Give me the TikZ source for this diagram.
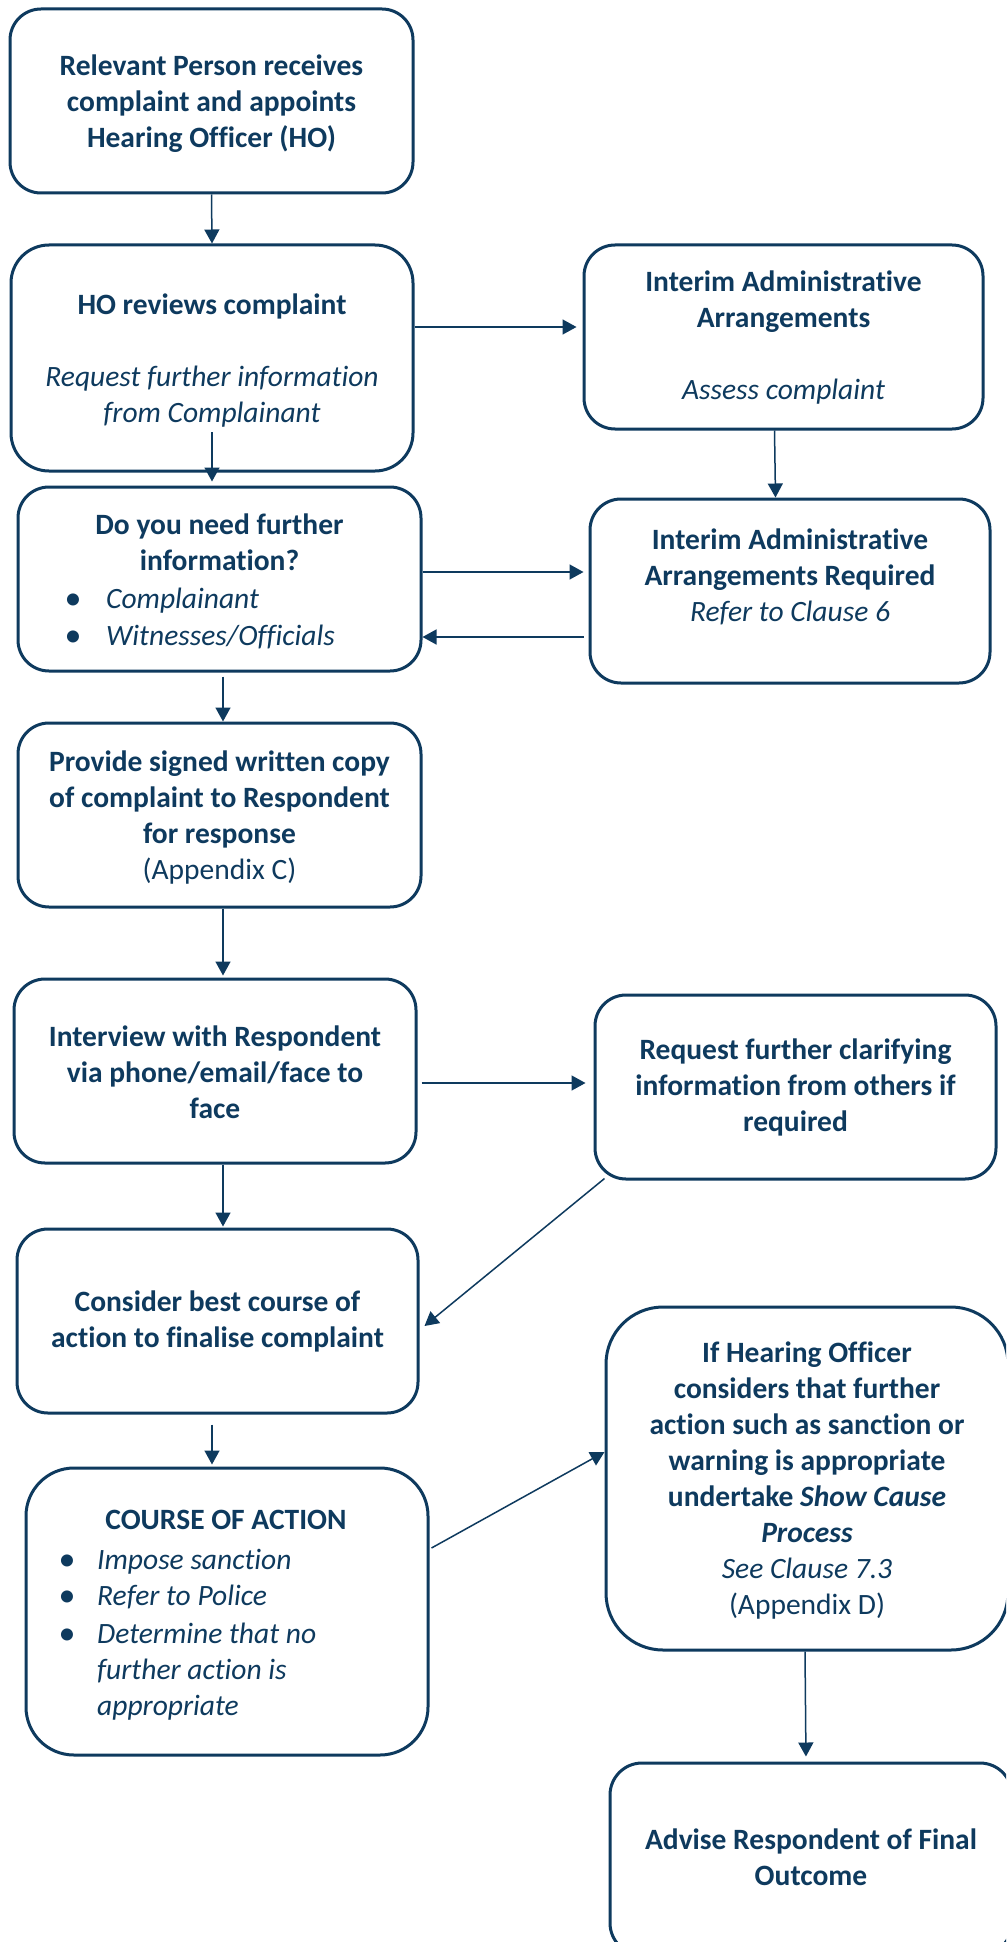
\documentclass[tikz,border=0pt]{standalone}
\usepackage{fontspec}
\setmainfont{Carlito}[Ligatures=NoCommon]
\usetikzlibrary{arrows.meta}
\definecolor{navy}{RGB}{14,58,94}
\begin{document}
\begin{tikzpicture}[x=1pt,y=-1pt,
  box/.style={draw=navy,line width=3pt,fill=white,inner sep=0pt},
  txt/.style={text=navy,align=center,inner sep=0pt,font=\fontsize{29.5}{36}\selectfont\bfseries},
  btxt/.style={text=navy,inner sep=0pt,anchor=base west,font=\fontsize{29.5}{36}\selectfont\itshape},
  bul/.style={text=navy,inner sep=0pt,anchor=base,font=\fontsize{34}{36}\selectfont},
  arr/.style={draw=navy,line width=1.5pt,-{Triangle[length=14pt,width=15pt]}}]
\fill[white] (0,0) rectangle (1006,1942);
\useasboundingbox (0,0) rectangle (1006,1942);
\clip (0,0) rectangle (1006,1942);
% boxes
\node[box,minimum width=403pt,minimum height=184pt,rounded corners=31pt] (b1) at (211.5,101) {};
\node[box,minimum width=402pt,minimum height=226pt,rounded corners=38pt] (b2) at (212,358) {};
\node[box,minimum width=399pt,minimum height=184pt,rounded corners=31pt] (b3) at (783.5,337) {};
\node[box,minimum width=403pt,minimum height=184pt,rounded corners=31pt] (b4) at (219.5,579) {};
\node[box,minimum width=400pt,minimum height=184pt,rounded corners=31pt] (b5) at (790,591) {};
\node[box,minimum width=403pt,minimum height=184pt,rounded corners=31pt] (b6) at (219.5,815) {};
\node[box,minimum width=402pt,minimum height=184pt,rounded corners=31pt] (b7) at (215,1071) {};
\node[box,minimum width=401pt,minimum height=184pt,rounded corners=31pt] (b8) at (795.5,1087) {};
\node[box,minimum width=401pt,minimum height=184pt,rounded corners=31pt] (b9) at (217.5,1321) {};
\node[box,minimum width=402pt,minimum height=287pt,rounded corners=48pt] (b10) at (227,1611.5) {};
\node[box,minimum width=402pt,minimum height=343pt,rounded corners=57pt] (b11) at (807,1478.5) {};
\node[box,minimum width=402pt,minimum height=192pt,rounded corners=32pt] (b12) at (811,1859) {};
% texts
\node[txt,yshift=-2.5pt] (t1) at (b1.center) {Relevant Person receives\\complaint and appoints\\Hearing Officer (HO)};
\node[txt,yshift=-3pt] (t2) at (b2.center) {HO reviews complaint\\[36pt]{\mdseries\itshape Request further information}\\{\mdseries\itshape from Complainant}};
\node[txt,yshift=-1pt] (t3) at (b3.center) {Interim Administrative\\Arrangements\\[36pt]{\mdseries\itshape Assess complaint}};
\node[txt] (t4) at (219.5,542.5) {Do you need further\\information?};
\node[bul] (t4a) at (73,609) {\textbullet};
\node[btxt] (t4b) at (106,608) {Complainant};
\node[bul] (t4c) at (73,646) {\textbullet};
\node[btxt] (t4d) at (106,645) {Witnesses/Officials};
\node[txt,yshift=14pt] (t5) at (b5.center) {Interim Administrative\\Arrangements Required\\{\mdseries\itshape Refer to Clause 6}};
\node[txt,yshift=-3pt] (t6) at (b6.center) {Provide signed written copy\\of complaint to Respondent\\for response\\{\mdseries (Appendix C)}};
\node[txt,yshift=-1pt] (t7) at (b7.center) {Interview with Respondent\\via phone/email/face to\\face};
\node[txt] (t8) at (b8.center) {Request further clarifying\\information from others if\\required};
\node[txt] (t9) at (b9.center) {Consider best course of\\action to finalise complaint};
\node[txt] (t10) at (226,1520) {COURSE OF ACTION};
\node[bul] (t10a) at (67,1570) {\textbullet};
\node[btxt] (t10b) at (97,1569) {Impose sanction};
\node[bul] (t10c) at (67,1606) {\textbullet};
\node[btxt] (t10d) at (97,1605) {Refer to Police};
\node[bul] (t10e) at (67,1644) {\textbullet};
\node[btxt] (t10f) at (97,1643) {Determine that no};
\node[btxt] (t10g) at (97,1679) {further action is};
\node[btxt] (t10h) at (97,1715) {appropriate};
\node[txt,yshift=-2.5pt] (t11) at (b11.center) {If Hearing Officer\\considers that further\\action such as sanction or\\warning is appropriate\\undertake \textit{Show Cause}\\\textit{Process}\\{\mdseries\itshape See Clause 7.3}\\{\mdseries (Appendix D)}};
\node[txt,yshift=1.5pt] (t12) at (b12.center) {Advise Respondent of Final\\Outcome};
% connectors
\draw[arr] (b1.south) -- (b2.north);
\draw[arr] (b2.center |- 0,432) -- ([yshift=4pt]b2.center |- b4.north);
\draw[arr,shorten >=6pt] (b2.east |- 0,327) -- (b3.west |- 0,327);
\draw[arr] ([xshift=-9pt]b3.south) -- ([xshift=-8pt]b3.south |- b5.north);
\draw[arr,shorten >=5pt] (b4.east |- 0,572) -- (b5.west |- 0,572);
\draw[arr,shorten <=5pt] (b5.west |- 0,637) -- (b4.east |- 0,637);
\draw[arr,shorten <=4pt] ([xshift=3.5pt]b4.south) -- ([xshift=3.5pt]b4.south |- b6.north);
\draw[arr,shorten >=2pt] ([xshift=3.5pt]b6.south) -- ([xshift=3.5pt]b6.south |- b7.north);
\draw[arr,shorten <=4pt,shorten >=8pt] (b7.east |- 0,1083) -- (b8.west |- 0,1083);
\draw[arr] ([xshift=8pt]b7.south) -- ([xshift=8pt,yshift=1pt]b7.south |- b9.north);
\draw[arr] ([shift={(11pt,2pt)}]b8.south west) -- ([shift={(5pt,-5pt)}]b9.east);
\draw[arr,shorten <=10pt,shorten >=2pt] ([xshift=-5.5pt]b9.south) -- ([xshift=-5.5pt]b9.south |- b10.north);
\draw[arr] ([shift={(2pt,63.5pt)}]b10.east) -- ([yshift=26.5pt]b11.west);
\draw[arr,shorten >=5pt] ([xshift=-2pt]b11.south) -- ([xshift=-5pt]b12.north);
\end{tikzpicture}
\end{document}
